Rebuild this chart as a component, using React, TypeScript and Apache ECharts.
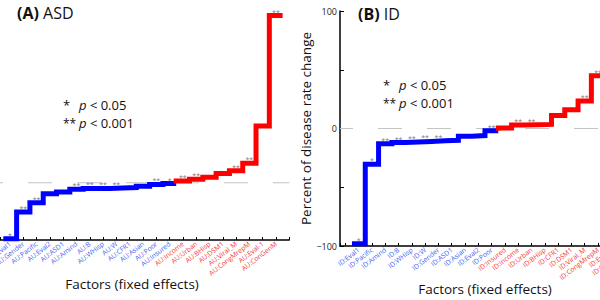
import React, { useEffect, useRef } from 'react';
import * as echarts from 'echarts';

// ---------- data ----------
const asdFactors = ['AU:Eval1', 'AU:Gender', 'AU:Pacific', 'AU:Eval2', 'AU:ASD1', 'AU:Amind', 'AU:B', 'AU:WHisp', 'AU:W', 'AU:CFR1', 'AU:Asian', 'AU:Poor', 'AU:Insured', 'AU:Income', 'AU:Urban', 'AU:BHisp', 'AU:DSM1', 'AU:Viral_M', 'AU:CongMrepM', 'AU:Eval-1', 'AU:ConGenM'];
const asdValues = [-98, -51, -35, -19, -16, -11.5, -10, -10, -9, -8.5, -6, -3, -1.5, 3, 6, 9.5, 16, 21, 34, 99, 292];
const asdStars = ['*', '**', '**', '', '', '**', '**', '**', '**', '', '', '**', '*', '**', '**', '', '', '**', '**', '', '**'];
const asdBlueCount = 13;

const idFactors = ['ID:Eval1', 'ID:Pacific', 'ID:Amind', 'ID:B', 'ID:WHisp', 'ID:W', 'ID:Gender', 'ID:ASD1', 'ID:Asian', 'ID:Eval2', 'ID:Poor', 'ID:Insured', 'ID:Income', 'ID:Urban', 'ID:BHisp', 'ID:CFR1', 'ID:DSM1', 'ID:Viral_M', 'ID:CongMrepM', 'ID:Eval-1', 'ID:ConGenM'];
const idValues = [-98, -30.5, -13, -12, -11.5, -11, -10.5, -10, -6.5, -6, -2, 0.5, 3, 3.2, 3.5, 11, 16, 23.5, 45, 60, 85];
const idStars = ['*', '*', '**', '**', '**', '**', '**', '', '', '', '**', '', '**', '**', '', '', '', '**', '**', '**', '**'];
const idBlueCount = 11;

const yTicksRight = [-100, 0, 100];

// ---------- styles ----------
const FONT = 'Open Sans';
const BLUE_LINE = '#0000ff';
const RED_LINE = '#ff0000';
const BLUE_TEXT = '#3f5ff2';
const RED_TEXT = '#f23a3a';

function bluePoints(values: number[], nb: number) {
  const pts: number[][] = [[0.5, values[0]]];
  for (let c = 1; c <= nb; c++) pts.push([c + 0.5, values[c - 1]]);
  return pts;
}
function redPoints(values: number[], nb: number) {
  const pts: number[][] = [[nb + 0.5, values[nb - 1]]];
  for (let c = nb + 1; c <= values.length; c++) pts.push([c + 0.5, values[c - 1]]);
  return pts;
}
function starData(values: number[], stars: string[]) {
  const out: any[] = [];
  stars.forEach((s, i) => {
    if (s) out.push({ name: s, value: [i + 1, values[i]] });
  });
  return out;
}

function xAxisFor(gridIndex: number, min: number, names: string[], nb: number) {
  return {
    type: 'value',
    gridIndex,
    min,
    max: 22,
    splitNumber: 22,
    minInterval: 1,
    maxInterval: 1,
    axisLine: { onZero: false, lineStyle: { color: '#000', width: 1.5 } },
    axisTick: { inside: true, length: 3, lineStyle: { color: '#000', width: 1 } },
    splitLine: { show: false },
    axisLabel: {
      rotate: 38,
      fontSize: 6.8,
      margin: 3,
      fontFamily: FONT,
      showMinLabel: true,
      showMaxLabel: true,
      formatter: (v: number) => {
        const k = Math.round(v);
        if (Math.abs(v - k) > 1e-6 || k < 1 || k > names.length) return '';
        return names[k - 1];
      },
      color: (v: any) => (Number(v) <= nb ? BLUE_TEXT : RED_TEXT),
    },
  };
}

function panelSeries(idx: number, values: number[], stars: string[], nb: number, xmin: number, dashOffset: number) {
  return [
    {
      type: 'line',
      xAxisIndex: idx,
      yAxisIndex: idx,
      data: [[xmin, 0], [22, 0]],
      showSymbol: false,
      silent: true,
      z: 1,
      lineStyle: { color: '#c4c4c4', width: 1.2, type: [24, 25], dashOffset },
    },
    {
      type: 'line',
      xAxisIndex: idx,
      yAxisIndex: idx,
      step: 'start',
      data: bluePoints(values, nb),
      showSymbol: false,
      z: 3,
      lineStyle: { color: BLUE_LINE, width: 5, cap: 'butt', join: 'miter' },
    },
    {
      type: 'line',
      xAxisIndex: idx,
      yAxisIndex: idx,
      step: 'start',
      data: redPoints(values, nb),
      showSymbol: false,
      z: 3,
      lineStyle: { color: RED_LINE, width: 5, cap: 'butt', join: 'miter' },
    },
    {
      type: 'scatter',
      xAxisIndex: idx,
      yAxisIndex: idx,
      data: starData(values, stars),
      symbolSize: 0,
      z: 4,
      label: {
        show: true,
        position: 'top',
        distance: 0,
        formatter: '{b}',
        fontSize: 7,
        color: '#555',
        fontFamily: FONT,
      },
    },
  ];
}

function legendTexts(x: number, y: number) {
  const base = { fontSize: 13, fontFamily: FONT, fill: '#111', verticalAlign: 'middle', align: 'left' };
  const rich = { i: { fontStyle: 'italic', fontSize: 13, fontFamily: FONT, fill: '#111' } };
  return [
    { type: 'text', x, y, style: { ...base, text: '*' } },
    { type: 'text', x: x + 16, y, style: { ...base, text: '{i|p} < 0.05', rich } },
    { type: 'text', x, y: y + 18, style: { ...base, fontSize: 12, text: '**' } },
    { type: 'text', x: x + 16, y: y + 18, style: { ...base, text: '{i|p} < 0.001', rich } },
  ];
}

export default function App() {
  const ref = useRef<HTMLDivElement>(null);
  useEffect(() => {
    if (!ref.current) return;
    const chart = echarts.init(ref.current, undefined, { renderer: 'svg' });
    const leftMin = 0.25;
    const rightMin = -0.4;
    const unit = 13.3;
    const option: any = {
      animation: false,
      backgroundColor: '#fff',
      grid: [
        { left: 0, top: 11, width: (22 - leftMin) * unit, height: 229, outerBoundsMode: 'none', containLabel: false },
        { left: 340, top: 11, width: (22 - rightMin) * unit, height: 235, outerBoundsMode: 'none', containLabel: false },
      ],
      xAxis: [
        xAxisFor(0, leftMin, asdFactors, asdBlueCount),
        xAxisFor(1, rightMin, idFactors, idBlueCount),
      ],
      yAxis: [
        { type: 'value', gridIndex: 0, min: -100, max: 300, show: false, splitLine: { show: false } },
        {
          type: 'value',
          gridIndex: 1,
          min: -100,
          max: 100,
          interval: 50,
          axisLine: { show: true, onZero: false, lineStyle: { color: '#000', width: 1.5 } },
          axisTick: { show: true, inside: true, length: 4, lineStyle: { color: '#000' } },
          splitLine: { show: false },
          axisLabel: {
            fontSize: 9,
            margin: 3,
            color: '#222',
            fontFamily: FONT,
            formatter: (v: number) => (yTicksRight.includes(v) ? (v < 0 ? '\u2212' + Math.abs(v) : String(v)) : ''),
          },
          name: 'Percent of disease rate change',
          nameLocation: 'middle',
          nameGap: 19,
          nameTextStyle: { fontSize: 13.5, color: '#111', fontFamily: FONT },
        },
      ],
      series: [
        ...panelSeries(0, asdValues, asdStars, asdBlueCount, leftMin, 21),
        ...panelSeries(1, idValues, idStars, idBlueCount, rightMin, 11),
      ],
      graphic: [
        {
          type: 'text',
          x: 17,
          y: 13,
          style: {
            text: '{b|(A)} ASD',
            fontSize: 16,
            fontFamily: FONT,
            fill: '#111',
            verticalAlign: 'middle',
            rich: { b: { fontWeight: 'bold', fontSize: 16, fontFamily: FONT, fill: '#111' } },
          },
        },
        {
          type: 'text',
          x: 358,
          y: 14,
          style: {
            text: '{b|(B)} ID',
            fontSize: 16,
            fontFamily: FONT,
            fill: '#111',
            verticalAlign: 'middle',
            rich: { b: { fontWeight: 'bold', fontSize: 16, fontFamily: FONT, fill: '#111' } },
          },
        },
        ...legendTexts(63, 105),
        ...legendTexts(383, 85),
        {
          type: 'text',
          x: 132,
          y: 284,
          style: { text: 'Factors (fixed effects)', fontSize: 13.5, fontFamily: FONT, fill: '#111', align: 'center', verticalAlign: 'middle' },
        },
        {
          type: 'text',
          x: 485,
          y: 289,
          style: { text: 'Factors (fixed effects)', fontSize: 13.5, fontFamily: FONT, fill: '#111', align: 'center', verticalAlign: 'middle' },
        },
      ],
    };
    chart.setOption(option);
    return () => chart.dispose();
  }, []);
  return <div ref={ref} style={{ position: 'fixed', left: 0, top: 0, width: 600, height: 300 }} />;
}
